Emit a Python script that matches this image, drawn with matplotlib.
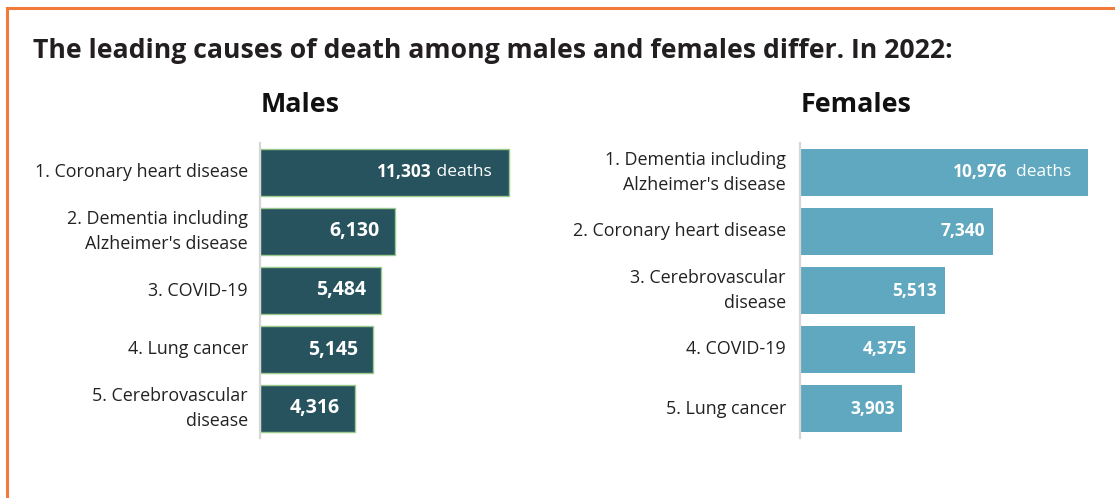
import matplotlib.pyplot as plt
from matplotlib.lines import Line2D

plt.rcParams['font.family'] = ['Open Sans', 'DejaVu Sans']

# datos
causas_h = ["1. Coronary heart disease", "2. Dementia including\nAlzheimer's disease",
            "3. COVID-19", "4. Lung cancer", "5. Cerebrovascular\ndisease"]
muertes_h = [11303, 6130, 5484, 5145, 4316]
causas_m = ["1. Dementia including\nAlzheimer's disease", "2. Coronary heart disease",
            "3. Cerebrovascular\ndisease", "4. COVID-19", "5. Lung cancer"]
muertes_m = [10976, 7340, 5513, 4375, 3903]

W, H = 1115, 498
fig = plt.figure(figsize=(W / 100, H / 100), dpi=100)

# borde naranja
naranja = '#F07A3A'
fig.add_artist(Line2D([7 / W, 1], [1 - 8 / H, 1 - 8 / H], color=naranja, lw=2.2, transform=fig.transFigure))
fig.add_artist(Line2D([7 / W, 7 / W], [0, 1 - 8 / H], color=naranja, lw=2.2, transform=fig.transFigure))

fig.text(33 / W, 1 - 51 / H, "The leading causes of death among males and females differ. In 2022:",
         fontsize=19.2, fontweight='bold', color='#231f20', va='center', ha='left')


def panel(x0, ancho, xmax, causas, valores, color, borde, titulo, pad_lbl, pad_val, off_num,
          fs_val, sep):
    ax = fig.add_axes([x0 / W, 1 - 438 / H, ancho / W, 295 / H])
    y = list(range(len(valores)))
    ax.barh(y, valores, height=0.81, color=color,
            edgecolor=borde if borde else color, linewidth=1 if borde else 0)
    ax.set_xlim(0, xmax)
    ax.set_ylim(4.5, -0.5)
    ax.set_xticks([])
    ax.set_yticks([])
    for s in ['top', 'right', 'bottom']:
        ax.spines[s].set_visible(False)
    ax.spines['left'].set_color('#d6d6d6')
    ax.spines['left'].set_linewidth(1.6)
    for i, (c, v) in enumerate(zip(causas, valores)):
        ax.annotate(c, xy=(0, i), xytext=(-pad_lbl, 0), textcoords='offset pixels',
                    ha='right', va='center', fontsize=12.9, color='#222222', linespacing=1.5)
        if i == 0:
            t = ax.annotate(f"{v:,}", xy=(v, i), xytext=(-off_num, 0), textcoords='offset pixels',
                            ha='right', va='center', fontsize=12.5, fontweight='bold', color='white')
            ax.annotate(sep + "deaths", xy=(1, 0.5), xycoords=t, ha='left', va='center',
                        fontsize=12.5, color='white')
        else:
            ax.annotate(f"{v:,}", xy=(v, i), xytext=(-pad_val, 0), textcoords='offset pixels',
                        ha='right', va='center', fontsize=fs_val, fontweight='bold', color='white')
    fig.text((x0 + 1) / W, 1 - 105 / H, titulo, fontsize=19.4, fontweight='bold',
             color='#111111', ha='left', va='center')
    return ax


panel(260, 280, 280 / 0.02203, causas_h, muertes_h, '#27535F', '#9cc98c', "Males", 12, 15, 77, 14, " ")
panel(800, 300, 300 / 0.02624, causas_m, muertes_m, '#5FA8BF', None, "Females", 14, 8, 81, 12.5, "  ")

fig.savefig("out.png", dpi=100)
